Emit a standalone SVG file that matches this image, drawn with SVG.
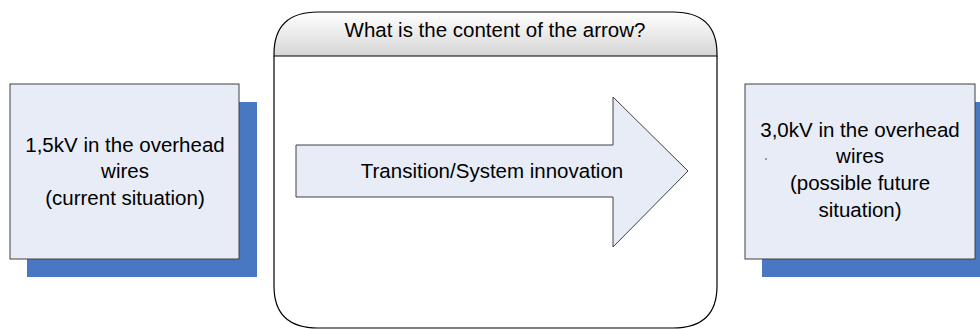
<svg xmlns="http://www.w3.org/2000/svg" width="980" height="329" viewBox="0 0 980 329">
<defs>
<linearGradient id="hdr" x1="0" y1="0" x2="0" y2="1">
<stop offset="0" stop-color="#ffffff"/>
<stop offset="1" stop-color="#d6d6d6"/>
</linearGradient>
</defs>
<style>
.box{fill:#e7ecf6;stroke:#404040;stroke-width:1}
.shadow{fill:#4878c2}
.t{font-family:"Liberation Sans",Arial,sans-serif;font-size:20.5px;fill:#000;text-anchor:middle}
</style>
<rect width="980" height="329" fill="#fff"/>
<g id="left-node">
<rect class="shadow" x="27" y="102" width="230" height="175"/>
<rect class="box" x="10" y="84" width="229" height="175"/>
<text class="t" x="125" y="152">1,5kV in the overhead</text>
<text class="t" x="125" y="178">wires</text>
<text class="t" x="125" y="205">(current situation)</text>
</g>
<g id="right-node">
<rect class="shadow" x="762" y="102" width="218" height="175"/>
<rect class="box" x="745" y="84" width="230" height="175"/>
<text class="t" x="860" y="137">3,0kV in the overhead</text>
<text class="t" x="860" y="163">wires</text>
<text class="t" x="860" y="190">(possible future</text>
<text class="t" x="860" y="217">situation)</text>
<circle cx="766" cy="159" r="0.8" fill="#333"/>
</g>
<g id="center-node">
<path d="M274,56 L274,54 Q274,12 318,12 L673,12 Q717,12 717,54 L717,56 Z" fill="url(#hdr)"/>
<path d="M274,56 L274,286 Q274,328 318,328 L673,328 Q717,328 717,286 L717,56" fill="none" stroke="#000" stroke-width="1.2"/>
<path d="M274,56 L274,54 Q274,12 318,12 L673,12 Q717,12 717,54 L717,56 Z" fill="none" stroke="#000" stroke-width="1.2"/>
<text class="t" x="495" y="37">What is the content of the arrow?</text>
</g>
<g id="connectors">
<g id="arrow">
<polygon points="296,145 613,145 613,97 688,171 613,247 613,197 296,197" fill="#e7ecf6" stroke="#404040" stroke-width="1"/>
<text class="t" x="492" y="178">Transition/System innovation</text>
</g>
</g>
</svg>
